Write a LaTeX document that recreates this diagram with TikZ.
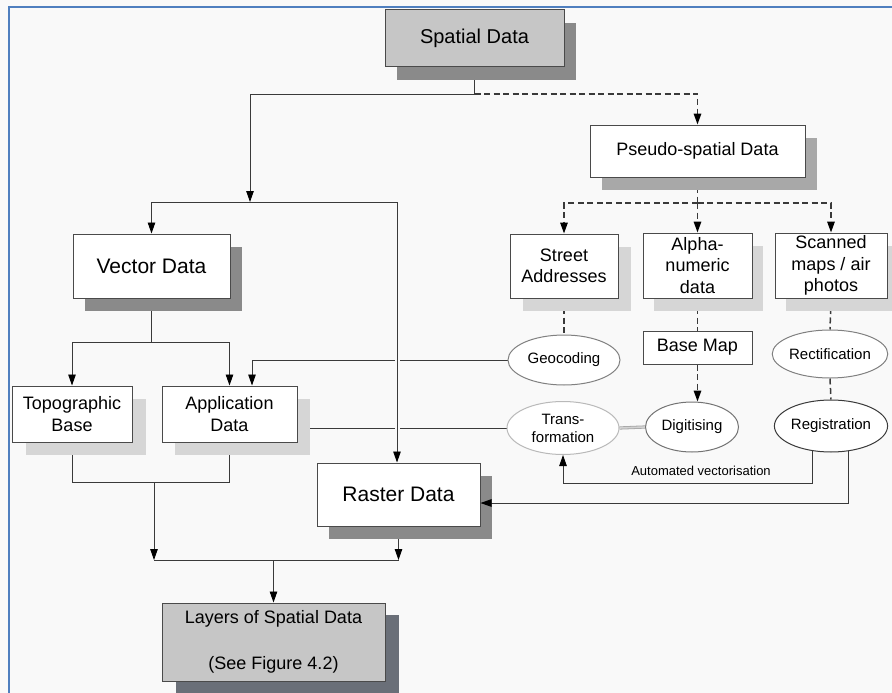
\documentclass[tikz,border=0pt]{standalone}
\usepackage{fontspec}
\setmainfont{Liberation Sans}
\usetikzlibrary{arrows.meta,shadows,shapes.geometric,calc}
\pgfdeclarelayer{bg}
\pgfsetlayers{bg,main}
\definecolor{bgc}{HTML}{F9F9F9}
\definecolor{framec}{HTML}{4F7FBF}
\definecolor{bordc}{HTML}{4A4A4A}
\definecolor{linec}{HTML}{3A3A3A}
\definecolor{grayfill}{HTML}{C6C6C6}
\definecolor{shdark}{HTML}{8A8A8A}
\definecolor{shmid}{HTML}{A8A8A8}
\definecolor{shlight}{HTML}{D6D6D6}
\definecolor{shlayer}{HTML}{6A6F78}
\begin{document}
\begin{tikzpicture}[x=1pt,y=-1pt,
  box/.style={draw=bordc, line width=1pt, fill=white, inner sep=0pt, align=center,
    font=\fontsize{18}{21.5}\selectfont},
  bigbox/.style={box, font=\fontsize{21}{25}\selectfont},
  shd/.style={drop shadow={shadow xshift=#1, shadow yshift=-13pt, fill=shlight, opacity=1}},
  shdd/.style={drop shadow={shadow xshift=12pt, shadow yshift=-13pt, fill=#1, opacity=1}},
  ell/.style={ellipse, draw=#1, line width=1pt, fill=white, inner sep=0pt, align=center,
    font=\fontsize{15}{18}\selectfont},
  ln/.style={draw=linec, line width=0.9pt},
  dsh/.style={draw=linec, line width=1.5pt, dash pattern=on 6pt off 3.5pt},
  arr/.style={-{Triangle[length=11pt,width=7.5pt,color=black]}},
  dbl/.style={draw=gray!70, line width=0.8pt, double=gray!35, double distance=1.6pt}
]
\useasboundingbox (0,0) rectangle (892,693);
\begin{pgfonlayer}{bg}
\fill[bgc] (0,0) rectangle (892,693);
\end{pgfonlayer}
\draw[framec, line width=2pt] (9,693) -- (9,7) -- (892,7);

% nodes
\node[bigbox, fill=grayfill, minimum width=179, minimum height=57, shdd=shdark, font=\fontsize{20}{24}\selectfont] (sd) at (474.5,38.5) {Spatial Data};
\node[box, minimum width=215, minimum height=52, shdd=shmid] (psd) at (697.5,151) {Pseudo-spatial Data};
\node[bigbox, minimum width=157, minimum height=64, shdd=shdark] (vd) at (151.5,266) {Vector Data};
\node[box, minimum width=108, minimum height=64, shd=13pt] (sa) at (564,266) {Street\\Addresses};
\node[box, minimum width=109, minimum height=65, shd=11pt] (an) at (697.5,265.5) {Alpha-\\numeric\\data};
\node[box, minimum width=112, minimum height=65, shd=11pt] (sc) at (831,265.5) {Scanned\\maps / air\\photos};
\node[box, minimum width=120, minimum height=56, shd=14pt] (tb) at (72,414) {Topographic\\Base};
\node[box, minimum width=135, minimum height=56, shd=13pt] (ad) at (229.5,414) {Application\\Data};
\node[bigbox, minimum width=163, minimum height=63, shdd=shdark] (rd) at (398.5,494.5) {Raster Data};
\node[box, fill=grayfill, minimum width=223, minimum height=78, drop shadow={shadow xshift=14pt, shadow yshift=-12pt, fill=shlayer, opacity=1}] (ly) at (273.5,642) {Layers of Spatial Data\\[25pt](See Figure 4.2)};
\node[box, minimum width=109, minimum height=33] (bm) at (697.5,347.5) {Base Map};
\node[ell=gray, minimum width=112, minimum height=50] (geo) at (564,360) {Geocoding};
\node[ell=gray!55, minimum width=112, minimum height=53] (tr) at (563,428) {Trans-\\formation};
\node[ell=gray!90!black, minimum width=93, minimum height=50] (dg) at (692,427) {Digitising};
\node[ell=gray, minimum width=110, minimum height=48] (rc) at (830,354) {Rectification};
\node[ell=linec, minimum width=112, minimum height=52] (reg) at (831,426) {Registration};
\node[font=\fontsize{13}{15}\selectfont, inner sep=0pt] (av) at (701,471) {Automated vectorisation};

% junction coordinates
\coordinate (sj) at (474.5,94);
\coordinate (vj) at (250,202);
\coordinate (vl) at (151.5,202);
\coordinate (vr) at (397,202);
\coordinate (pj) at (697.5,203);
\coordinate (vb) at (151.5,342);
\coordinate (ga) at (252,360);
\coordinate (tbj) at (154,482);
\coordinate (lj1) at (154,560);
\coordinate (lj2) at (398.5,560);
\coordinate (rv1) at (813,483);
\coordinate (rv2) at (848,503);

\begin{pgfonlayer}{bg}
% spatial data branches
\draw[ln] (sd.south) -- (sj);
\draw[ln,arr] (sj) -| (vj);
\draw[dsh,arr] (sj) -| (psd.north);
\draw[ln] (vl) -- (vr);
\draw[ln,arr] (vl) -- (vd.north);
% pseudo-spatial branches
\draw[dsh] (psd.south) -- (pj);
\draw[dsh,arr] (pj) -| (sa.north);
\draw[dsh,arr] (pj) -- (an.north);
\draw[dsh,arr] (pj) -| (sc.north);
% vector data
\draw[ln] (vd.south) -- (vb);
\draw[ln,arr] (vb) -| (tb.north);
\draw[ln,arr] (vb) -| (ad.north);
% dashed chains
\draw[dsh] (sa.south) -- (geo.north);
\draw[dsh] (an.south) -- (bm.north);
\draw[dsh,arr] (bm.south) -- (bm.south |- dg.north);
\draw[dsh] (sc.south) -- (rc.north);
\draw[dsh] (rc.south) -- (reg.north);
% to application data
\draw[ln,arr] (geo.west) -- (ga) -- (ga |- ad.north);
\draw[ln,arr] (tr.west) -- (tr.west -| ad.east);
\draw[dbl] (tr.east) -- (dg.west);
% gap and vertical to raster
\draw[bgc, line width=5pt] ($(vr |- ga)+(0,-6)$) -- ($(vr |- tr.west)+(0,6)$);
\draw[ln,arr] (vr) -- (vr |- rd.north);
% registration outputs
\draw[ln,arr] (reg.-126) -- (reg.-126 |- rv1) -| (tr.south);
% to layers
\draw[ln] (tb.south) -- (tb.south |- tbj) -- (ad.south |- tbj) -- (ad.south);
\draw[ln,arr] (tbj) -- (lj1);
\draw[ln] (lj1) -- (lj2);
\draw[ln,arr] (rd.south) -- (lj2);
\draw[ln,arr] (ly.north |- lj1) -- (ly.north);
\end{pgfonlayer}
\draw[ln,arr] (reg.-56) -- (reg.-56 |- rv2) -- (rv2 -| rd.east);
\end{tikzpicture}
\end{document}
